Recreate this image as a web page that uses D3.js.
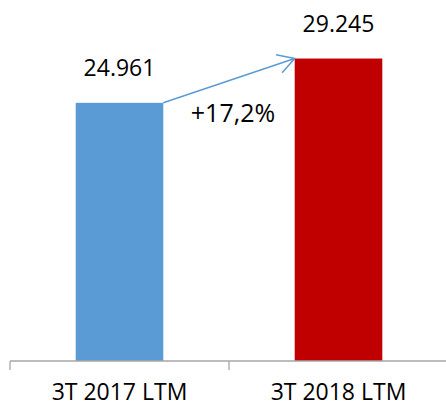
<!DOCTYPE html>
<html>
<head>
<meta charset="utf-8">
<script src="https://cdn.jsdelivr.net/npm/d3@7"></script>
<style>
  body { margin: 0; background: #fff; }
  text { font-family: "Open Sans", sans-serif; fill: #000; }
</style>
</head>
<body>
<div id="chart"></div>
<script>
var categories = ['3T 2017 LTM', '3T 2018 LTM']
var values = [24961, 29245]
var valueLabels = ['24.961', '29.245']
var growthLabel = '+17,2%'
var colors = ['#5B9BD5', '#C00000']

var width = 446
var height = 406
var baseline = 361

var svg = d3.select('#chart')
  .append('svg')
  .attr('width', width)
  .attr('height', height)

var xScale = d3.scaleBand()
  .domain(categories)
  .range([10, 448])
  .paddingInner(0.6)
  .paddingOuter(0.3)

var yScale = d3.scaleLinear()
  .domain([0, 35000])
  .range([baseline, -1])

/* bars */
svg.selectAll('rect.bar')
  .data(values)
  .enter().append('rect')
  .attr('class', 'bar')
  .attr('x', (d, i) => xScale(categories[i]))
  .attr('y', d => yScale(d))
  .attr('width', xScale.bandwidth())
  .attr('height', d => yScale(0) - yScale(d))
  .attr('fill', (d, i) => colors[i])

/* value labels */
svg.selectAll('text.value')
  .data(values)
  .enter().append('text')
  .attr('class', 'value')
  .attr('x', (d, i) => xScale(categories[i]) + xScale.bandwidth() / 2)
  .attr('y', d => yScale(d) - 27)
  .attr('text-anchor', 'middle')
  .style('font-size', '23px')
  .text((d, i) => valueLabels[i])

/* x axis: line with ticks at band edges */
var step = xScale.step()
var r0 = xScale.range()[0]
svg.append('line')
  .attr('x1', r0).attr('x2', xScale.range()[1])
  .attr('y1', yScale(0)).attr('y2', yScale(0))
  .attr('stroke', '#A6A6A6').attr('stroke-width', 1.3)
svg.selectAll('line.tick')
  .data(d3.range(categories.length + 1))
  .enter().append('line')
  .attr('class', 'tick')
  .attr('x1', i => r0 + i * step).attr('x2', i => r0 + i * step)
  .attr('y1', yScale(0)).attr('y2', yScale(0) + 9)
  .attr('stroke', '#A6A6A6').attr('stroke-width', 1.3)

svg.selectAll('text.cat')
  .data(categories)
  .enter().append('text')
  .attr('class', 'cat')
  .attr('x', d => xScale(d) + xScale.bandwidth() / 2)
  .attr('y', yScale(0) + 39)
  .attr('text-anchor', 'middle')
  .style('font-size', '23px')
  .text(d => d)

/* growth arrow */
var p0 = [xScale(categories[0]) + xScale.bandwidth(), yScale(values[0])]
var p1 = [xScale(categories[1]), yScale(values[1])]
var ang = Math.atan2(p0[1] - p1[1], p0[0] - p1[0])
var wing = 19
var spread = 30 * Math.PI / 180
var arrow = d3.path()
arrow.moveTo(p0[0], p0[1])
arrow.lineTo(p1[0], p1[1])
arrow.moveTo(p1[0] + wing * Math.cos(ang + spread), p1[1] + wing * Math.sin(ang + spread))
arrow.lineTo(p1[0], p1[1])
arrow.lineTo(p1[0] + wing * Math.cos(ang - spread), p1[1] + wing * Math.sin(ang - spread))
svg.append('path')
  .attr('d', arrow.toString())
  .attr('fill', 'none')
  .attr('stroke', '#5B9BD5')
  .attr('stroke-width', 1.5)

svg.append('text')
  .attr('x', (p0[0] + p1[0]) / 2 + 4)
  .attr('y', p0[1] + 19)
  .attr('text-anchor', 'middle')
  .style('font-size', '25px')
  .text(growthLabel)
</script>
</body>
</html>
